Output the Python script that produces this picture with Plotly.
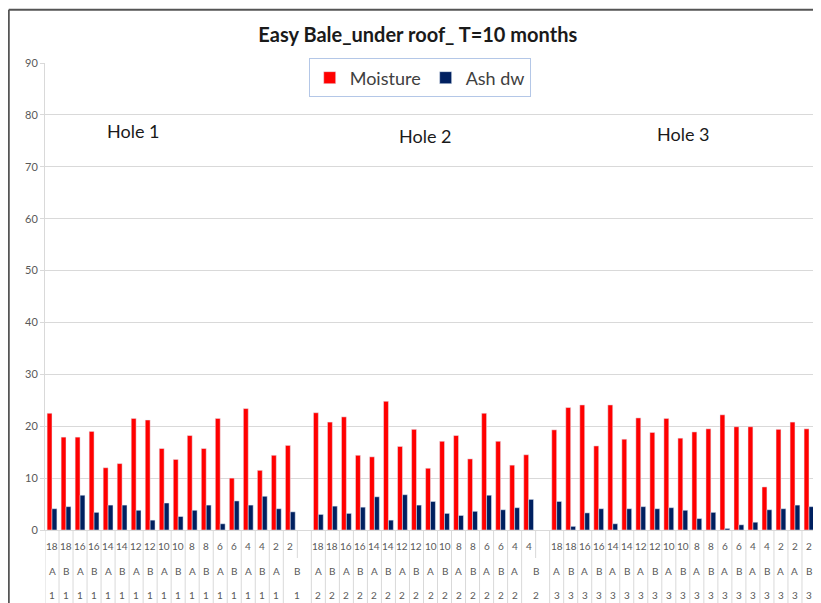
import plotly.graph_objects as go

# ===============================
# data (blank entries = separator columns between holes)
# ===============================
depth = [
    "18", "18", "16", "16", "14", "14", "12", "12", "10", "10", "8", "8", "6", "6", "4", "4", "2", "2", "",
    "18", "18", "16", "16", "14", "14", "12", "12", "10", "10", "8", "8", "6", "6", "4", "4", "",
    "18", "18", "16", "16", "14", "14", "12", "12", "10", "10", "8", "8", "6", "6", "4", "4", "2", "2", "2",
]
side = [
    "A", "B", "A", "B", "A", "B", "A", "B", "A", "B", "A", "B", "A", "B", "A", "B", "A", "B", "",
    "A", "B", "A", "B", "A", "B", "A", "B", "A", "B", "A", "B", "A", "B", "A", "B", "",
    "A", "B", "A", "B", "A", "B", "A", "B", "A", "B", "A", "B", "A", "B", "A", "B", "A", "A", "B",
]
hole = ["1"] * 18 + [""] + ["2"] * 16 + [""] + ["3"] * 19

moisture = [
    22.5, 17.9, 17.9, 19.0, 12.0, 12.8, 21.5, 21.2, 15.7, 13.6, 18.2, 15.7, 21.5, 10.0, 23.4, 11.5, 14.4, 16.3, None,
    22.6, 20.8, 21.8, 14.4, 14.1, 24.8, 16.1, 19.4, 11.9, 17.1, 18.2, 13.7, 22.5, 17.1, 12.5, 14.5, None,
    19.3, 23.6, 24.1, 16.2, 24.1, 17.5, 21.6, 18.8, 21.5, 17.7, 18.9, 19.5, 22.2, 19.9, 19.9, 8.3, 19.4, 20.8, 19.5,
]
ash_dw = [
    4.1, 4.5, 6.7, 3.4, 4.8, 4.8, 3.8, 1.9, 5.2, 2.6, 3.8, 4.8, 1.2, 5.6, 4.8, 6.5, 4.1, 3.5, None,
    3.0, 4.6, 3.2, 4.4, 6.4, 1.9, 6.8, 4.8, 5.5, 3.2, 2.8, 3.6, 6.7, 3.9, 4.3, 5.9, None,
    5.5, 0.7, 3.3, 4.1, 1.2, 4.1, 4.5, 4.1, 4.3, 3.8, 2.2, 3.4, 0.3, 1.0, 1.5, 3.9, 4.1, 4.8, 4.5,
]

hole_titles = ["Hole 1", "Hole 2", "Hole 3"]
hole_title_x = [5.8, 26.6, 45.0]
hole_title_y = [76.9, 75.9, 76.3]

FONT = "Lato, 'Open Sans', sans-serif"
GRID = "#d9d9d9"
LABEL = "#595959"

idx = list(range(len(depth)))

fig = go.Figure()
fig.add_trace(go.Bar(x=idx, y=moisture, name="Moisture", marker_color="#ff0000"))
fig.add_trace(go.Bar(x=idx, y=ash_dw, name="Ash dw", marker_color="#002060"))

# ===============================
# multi-level category labels + cell dividers
# ===============================
annotations = []
shapes = []
row_shift = [-16, -41, -65]
for row, labels in enumerate([depth, side, hole]):
    for i, lab in enumerate(labels):
        if lab == "":
            continue
        x = i
        # lower rows merge with a following blank cell (Excel style)
        if row > 0 and i + 1 < len(labels) and labels[i + 1] == "":
            x = i + 0.5
        annotations.append(
            dict(
                x=x, y=0, xref="x", yref="paper", text=lab, showarrow=False,
                yanchor="middle", yshift=row_shift[row],
                font=dict(family=FONT, size=10, color=LABEL),
            )
        )

n = len(depth)
for b in range(-1, n):
    short = b + 1 < n and depth[b + 1] == "" if b >= 0 else False
    shapes.append(
        dict(
            type="line", xref="x", yref="paper",
            x0=b + 0.5, x1=b + 0.5, y0=0, y1=-0.06 if short else -0.16,
            line=dict(color=GRID, width=1),
        )
    )

# chart frame (cropped on right/bottom)
shapes.append(dict(type="line", xref="paper", yref="paper", x0=-0.047, x1=-0.047, y0=1.114, y1=-0.16,
                   line=dict(color="#555555", width=2)))
shapes.append(dict(type="line", xref="paper", yref="paper", x0=-0.047, x1=1.01, y0=1.114, y1=1.114,
                   line=dict(color="#555555", width=2)))

for t, hx, hy in zip(hole_titles, hole_title_x, hole_title_y):
    annotations.append(
        dict(x=hx, y=hy, xref="x", yref="y", text=t, showarrow=False,
             font=dict(family=FONT, size=18, color="#1a1a1a"))
    )

# page body adds an 8px offset, so the figure is 8px smaller than the window
fig.update_layout(
    width=813,
    height=595,
    margin=dict(l=37, r=5, t=55, b=73),
    paper_bgcolor="white",
    plot_bgcolor="white",
    barmode="group",
    bargap=0.3,
    bargroupgap=0,
    title=dict(
        text="<b>Easy Bale_under roof_ T=10 months</b>",
        x=0.504, y=0.955, xanchor="center", yanchor="middle",
        font=dict(family=FONT, size=20, color="#1a1a1a"),
    ),
    legend=dict(
        orientation="h", x=0.486, y=0.968, xanchor="center", yanchor="middle",
        bgcolor="white", bordercolor="#b4c7e7", borderwidth=1,
        font=dict(family=FONT, size=18, color="#404040"),
    ),
    xaxis=dict(
        range=[-0.5, n - 0.5], showticklabels=False, showgrid=False, zeroline=False,
        showline=True, linecolor=GRID, linewidth=1,
    ),
    yaxis=dict(
        range=[0, 90], dtick=10, showgrid=True, gridcolor=GRID, gridwidth=1,
        zeroline=False, showline=True, linecolor=GRID,
        ticks="outside", ticklen=4, tickcolor=GRID,
        tickfont=dict(family=FONT, size=11, color=LABEL),
    ),
    annotations=annotations,
    shapes=shapes,
    showlegend=True,
)

fig.write_html("out.html")
